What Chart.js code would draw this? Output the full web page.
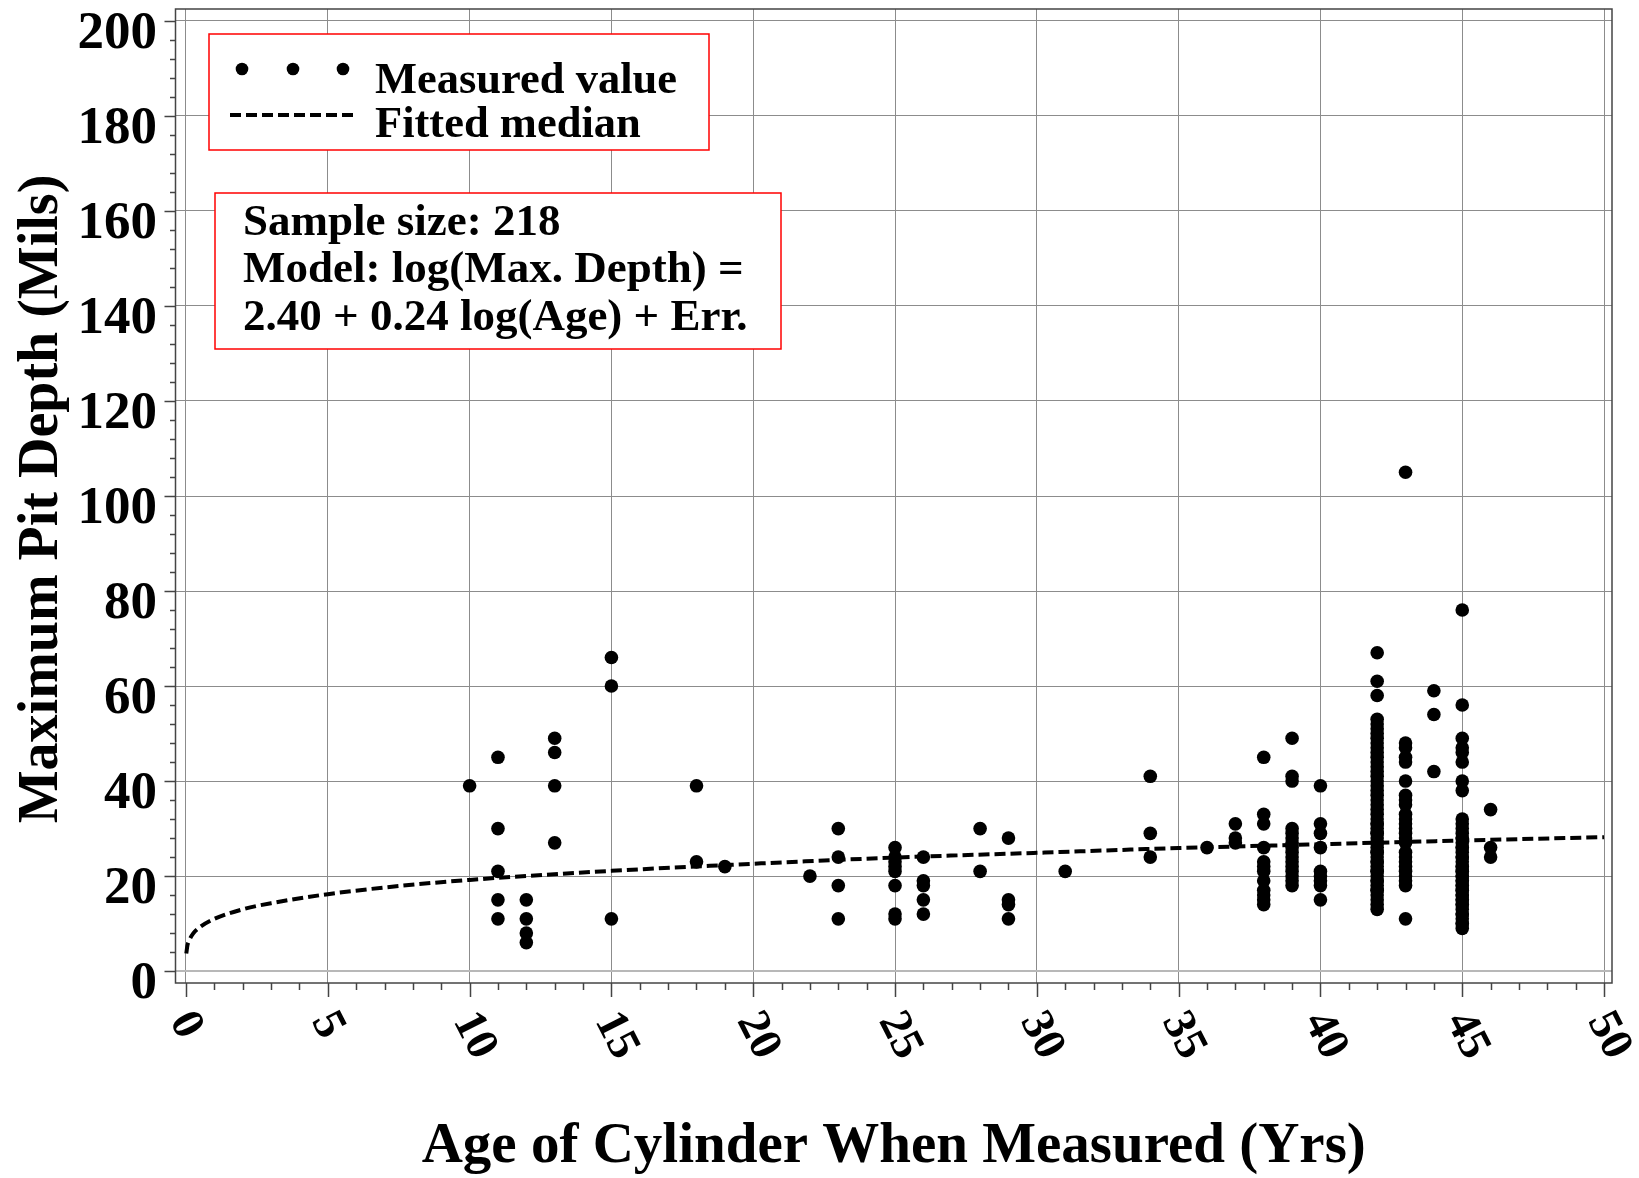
<!DOCTYPE html>
<html>
<head>
<meta charset="utf-8">
<script src="https://cdn.jsdelivr.net/npm/chart.js@4.4.1/dist/chart.umd.min.js"></script>
<style>
  html, body { margin: 0; padding: 0; background: #fff; }
  #wrap { width: 1639px; height: 1178px; }
</style>
</head>
<body>
<div id="wrap"><canvas id="pit-chart" width="1639" height="1178"></canvas></div>
<script>
// Measured maximum pit depths, grouped by cylinder age
const measuredAges = [10, 11, 12, 13, 15, 18, 19, 22, 23, 25, 26, 28, 29, 31, 34, 36, 37, 38, 39, 40, 42, 43, 44, 45, 46];
const measuredDepths = [
    [39],
    [45, 30, 21, 15, 11],
    [15, 11, 8, 6],
    [49, 46, 39, 27],
    [66, 60, 11],
    [39, 23],
    [22],
    [20],
    [30, 24, 18, 11],
    [26, 24, 23, 22, 21, 18, 12, 11],
    [24, 19, 18, 15, 12],
    [30, 21],
    [28, 15, 14, 11],
    [21],
    [41, 29, 24],
    [26],
    [31, 28, 27],
    [45, 33, 31, 26, 23, 22, 21, 19, 17, 16, 15, 14],
    [49, 41, 40, 30, 29, 28, 27, 26, 25, 24, 23, 22, 21, 20, 19, 18],
    [39, 31, 29, 26, 21, 20, 19, 18, 15],
    [67, 61, 58, 53, 52, 51, 50, 49, 48, 47, 46, 45, 44, 43, 42, 41, 40, 39, 38, 37, 36, 35, 34, 33, 32,
     31, 30, 29, 28, 27, 26, 25, 24, 23, 22, 21, 20, 19, 18, 17, 16, 15, 14, 13,
     31, 29, 27, 25, 23, 21, 19, 17],
    [105, 48, 47, 45, 44, 40, 37, 36, 35, 33, 32, 31, 30, 29, 28, 27, 25, 24, 23, 22, 21, 20, 19, 18, 11],
    [59, 54, 42],
    [76, 56, 49, 47, 46, 44, 40, 38, 32, 31, 30, 29, 28, 27, 26, 25, 24, 23, 22, 21, 20, 19, 18, 17, 16,
     15, 14, 13, 12, 11, 10, 9,
     28, 26, 24, 22, 21, 20, 19, 18, 17, 16, 15, 14, 12, 10],
    [34, 26, 24]
];

// Fitted median curve
const fitAges = [0.01, 0.05, 0.1, 0.25, 0.5, 1, 2, 3, 5, 7.5, 10, 15, 20, 25, 30, 35, 40, 45, 50];
const fitDepths = [3.7, 5.4, 6.3, 7.9, 9.3, 11.0, 13.0, 14.3, 16.2, 17.9, 19.2, 21.1, 22.6, 23.9, 24.9, 25.9, 26.7, 27.5, 28.2];

const xTicks = [0, 5, 10, 15, 20, 25, 30, 35, 40, 45, 50];
const yTicks = [0, 20, 40, 60, 80, 100, 120, 140, 160, 180, 200];

const xTitle = 'Age of Cylinder When Measured (Yrs)';
const yTitle = 'Maximum Pit Depth (Mils)';
const legendLabels = ['Measured value', 'Fitted median'];
const noteLines = ['Sample size: 218', 'Model: log(Max. Depth) =', '2.40 + 0.24 log(Age) + Err.'];

const points = [];
measuredAges.forEach(function(age, i) {
    measuredDepths[i].forEach(function(d) { points.push({x: age, y: d}); });
});
const fitPoints = fitAges.map(function(a, i) { return {x: a, y: fitDepths[i]}; });

const FONT = '"Liberation Serif", "Times New Roman", serif';
const DOT_R = 6.8;
const DASH = [11, 5];

const decor = {
    id: 'decor',
    beforeDatasetsDraw(chart) {
        const c = chart.ctx;
        c.save();
        // legend box
        c.fillStyle = '#fff';
        c.strokeStyle = '#ff0000';
        c.lineWidth = 1.5;
        c.fillRect(209, 34, 500, 116);
        c.strokeRect(209, 34, 500, 116);
        c.fillStyle = '#000';
        [242, 293, 343].forEach(function(px) {
            c.beginPath();
            c.arc(px, 69, 6.3, 0, Math.PI * 2);
            c.fill();
        });
        c.strokeStyle = '#000';
        c.lineWidth = 4;
        c.setLineDash(DASH);
        c.beginPath();
        c.moveTo(230, 115);
        c.lineTo(356, 115);
        c.stroke();
        c.setLineDash([]);
        c.font = 'bold 44.5px ' + FONT;
        c.textAlign = 'left';
        c.textBaseline = 'alphabetic';
        c.fillText(legendLabels[0], 375, 93);
        c.fillText(legendLabels[1], 375, 137);

        // model note box
        c.fillStyle = '#fff';
        c.strokeStyle = '#ff0000';
        c.lineWidth = 1.5;
        c.fillRect(215, 193, 566, 156);
        c.strokeRect(215, 193, 566, 156);
        c.fillStyle = '#000';
        c.font = 'bold 45px ' + FONT;
        const base = [235, 282, 330];
        noteLines.forEach(function(t, i) { c.fillText(t, 243, base[i]); });
        c.restore();
    },
    afterDraw(chart) {
        const c = chart.ctx;
        const a = chart.chartArea;
        const xs = chart.scales.x;
        const ys = chart.scales.y;
        c.save();
        // plot frame
        c.strokeStyle = '#444';
        c.lineWidth = 1.5;
        c.strokeRect(a.left, a.top, a.right - a.left, a.bottom - a.top);

        // tick marks
        c.lineWidth = 1.5;
        c.beginPath();
        for (let v = xTicks[0]; v <= xTicks[xTicks.length - 1]; v += 1) {
            const px = Math.round(xs.getPixelForValue(v)) + 0.5;
            const len = xTicks.includes(v) ? 14 : 7;
            c.moveTo(px, a.bottom);
            c.lineTo(px, a.bottom + len);
        }
        for (let v = yTicks[0]; v <= yTicks[yTicks.length - 1]; v += 4) {
            const py = Math.round(ys.getPixelForValue(v)) + 0.5;
            const len = yTicks.includes(v) ? 11 : 5.5;
            c.moveTo(a.left, py);
            c.lineTo(a.left - len, py);
        }
        c.stroke();

        c.fillStyle = '#000';
        // y tick labels
        c.font = 'bold 53px ' + FONT;
        c.textAlign = 'right';
        c.textBaseline = 'alphabetic';
        yTicks.forEach(function(v) {
            c.fillText(String(v), 157, ys.getPixelForValue(v) + 27);
        });

        // x tick labels, rotated clockwise
        c.font = 'bold 46px ' + FONT;
        c.textAlign = 'left';
        c.textBaseline = 'middle';
        xTicks.forEach(function(v) {
            const px = xs.getPixelForValue(v);
            c.save();
            c.translate(px - 6, 1015);
            c.rotate(63 * Math.PI / 180);
            c.fillText(String(v), 0, 0);
            c.restore();
        });

        // axis titles
        c.font = 'bold 57px ' + FONT;
        c.textAlign = 'center';
        c.textBaseline = 'alphabetic';
        c.fillText(xTitle, (a.left + a.right) / 2, 1162);

        c.font = 'bold 56px ' + FONT;
        c.save();
        c.translate(57, 499);
        c.rotate(-Math.PI / 2);
        c.fillText(yTitle, 0, 0);
        c.restore();
        c.restore();
    }
};

new Chart(document.getElementById('pit-chart').getContext('2d'), {
    type: 'scatter',
    data: {
        datasets: [{
            label: legendLabels[0],
            data: points,
            backgroundColor: '#000',
            borderWidth: 0,
            pointRadius: DOT_R,
            pointHoverRadius: DOT_R
        }, {
            label: legendLabels[1],
            type: 'line',
            data: fitPoints,
            borderColor: '#000',
            borderWidth: 4,
            borderDash: DASH,
            pointRadius: 0,
            fill: false,
            cubicInterpolationMode: 'monotone'
        }]
    },
    options: {
        responsive: false,
        animation: false,
        layout: { padding: { left: 175.5, right: 27, top: 9, bottom: 195 } },
        plugins: { legend: { display: false }, tooltip: { enabled: false } },
        scales: {
            x: {
                type: 'linear',
                min: -0.37,
                max: 50.28,
                afterBuildTicks: function(s) { s.ticks = xTicks.map(function(v) { return {value: v}; }); },
                ticks: { display: false },
                grid: { color: '#8c8c8c', lineWidth: 1, drawTicks: false },
                border: { display: false }
            },
            y: {
                type: 'linear',
                min: -2.5,
                max: 202.5,
                afterBuildTicks: function(s) { s.ticks = yTicks.map(function(v) { return {value: v}; }); },
                ticks: { display: false },
                grid: {
                    color: function(ctx) { return ctx.tick && ctx.tick.value === 0 ? '#b8b8b8' : '#8c8c8c'; },
                    lineWidth: function(ctx) { return ctx.tick && ctx.tick.value === 0 ? 2 : 1; },
                    drawTicks: false
                },
                border: { display: false }
            }
        }
    },
    plugins: [decor]
});
</script>
</body>
</html>
